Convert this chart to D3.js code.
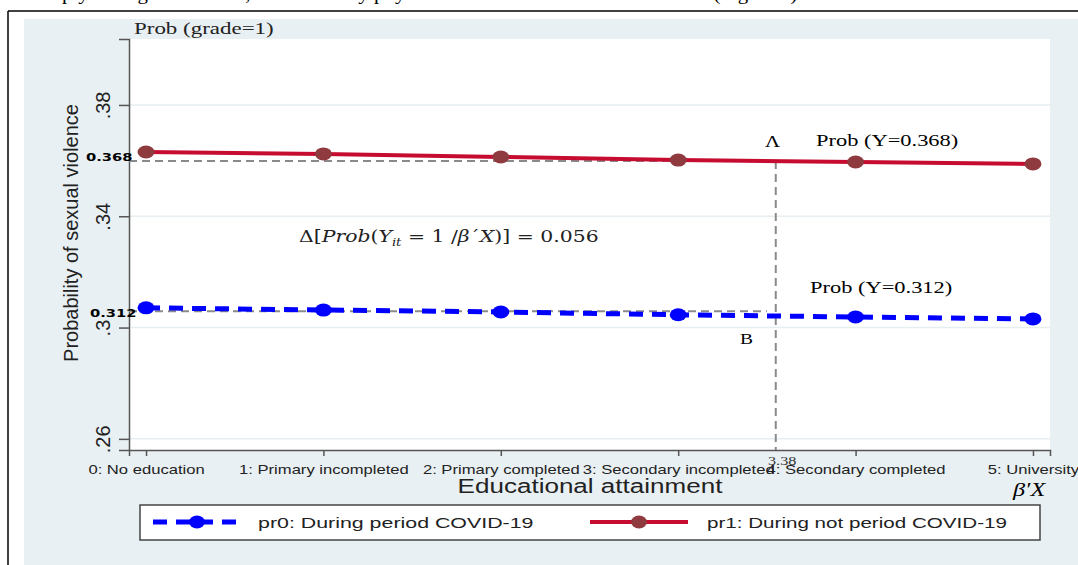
<!DOCTYPE html>
<html>
<head>
<meta charset="utf-8">
<script src="https://cdn.jsdelivr.net/npm/d3@7"></script>
<style>
  body { margin: 0; background: #fff; }
  svg { display: block; font-family: "Liberation Sans", Arial, sans-serif; }
</style>
</head>
<body>
<div id="chart"></div>
<script>
const width = 1078
const height = 565

// data
const levels = [0, 1, 2, 3, 4, 5]
const levelLabels = ["0: No education", "1: Primary incompleted", "2: Primary completed", "3: Secondary incompleted", "4: Secondary completed", "5: University"]
const pr0 = [0.3071, 0.3063, 0.3056, 0.3046, 0.3038, 0.3031]
const pr1 = [0.3631, 0.3624, 0.3613, 0.3602, 0.3595, 0.3588]
const yTicks = [0.26, 0.30, 0.34, 0.38]
const refA = 0.3599, refB = 0.3059, refX = 3.55, refXend = 3.5

const svg = d3.select("#chart").append("svg").attr("width", width).attr("height", height)

// the picture is stretched sideways, so most texts are too
function label(x, y, txt, size, sx, extra) {
    const t = svg.append("text")
        .attr("transform", `translate(${x},${y}) scale(${sx},1)`)
        .style("font-size", size + "px")
        .text(txt)
    if (extra) extra(t)
    return t
}
const serif = "Liberation Serif, Times New Roman, serif"

// page text cut off at the top
label(62, 0, "ply the figure 1 below, which clearly physical and sexual violence in the time (Figure 1)", 19, 1.1,
    t => t.style("font-family", serif))

// frame + background
svg.append("line").attr("x1", 8).attr("x2", width).attr("y1", 11).attr("y2", 11).attr("stroke", "#000").attr("stroke-width", 1.5)
svg.append("line").attr("x1", 8).attr("x2", 8).attr("y1", 11).attr("y2", height).attr("stroke", "#000").attr("stroke-width", 1.5)
svg.append("rect").attr("x", 24).attr("y", 19).attr("width", width - 24).attr("height", height - 19).attr("fill", "#e9f0f3")

// escalas
const x = d3.scaleLinear().domain([-0.096, 5.096]).range([129, 1050])
const y = d3.scaleLinear().domain([0.256, 0.4037]).range([450, 39])

svg.append("rect").attr("x", 129).attr("y", 39).attr("width", 921).attr("height", 411).attr("fill", "#fff")

// grid
svg.append("g").selectAll("line").data(yTicks).join("line")
    .attr("x1", 129).attr("x2", 1050)
    .attr("y1", d => y(d)).attr("y2", d => y(d))
    .attr("stroke", "#e6eef1").attr("stroke-width", 1.5)

// axes
const yAxis = d3.axisLeft(y).tickValues(yTicks).tickSizeOuter(0).tickSize(10)
    .tickFormat(d => d3.format(".2f")(d).replace(/^0/, "").replace(/0$/, ""))
const xAxis = d3.axisBottom(x).tickValues(levels).tickSizeOuter(0).tickSize(6).tickPadding(8)
    .tickFormat((d, i) => levelLabels[i])

const yAxisGroup = svg.append("g").attr("transform", "translate(129,0)").call(yAxis)
yAxisGroup.selectAll(".tick text")
    .attr("x", 0).attr("y", -19).attr("dy", 0)
    .attr("transform", "rotate(-90)")
    .attr("text-anchor", "middle")
    .style("font-size", "20px").style("fill", "#222")

const xAxisGroup = svg.append("g").attr("transform", "translate(0,450)").call(xAxis)
xAxisGroup.selectAll(".tick text").attr("transform", "scale(1.23,1)")
    .style("font-size", "13.5px").style("fill", "#222")

svg.selectAll(".domain, .tick line").attr("stroke", "#555").attr("stroke-width", 1.5)

// reference lines
const refG = svg.append("g").attr("stroke", "#8a8a8a").attr("stroke-width", 2).attr("stroke-dasharray", "8,5")
refG.append("line").attr("x1", x(-0.096)).attr("x2", x(refXend)).attr("y1", y(refA)).attr("y2", y(refA))
refG.append("line").attr("x1", x(-0.096)).attr("x2", x(refXend)).attr("y1", y(refB)).attr("y2", y(refB))
refG.append("line").attr("x1", x(refX)).attr("x2", x(refX)).attr("y1", y(refA)).attr("y2", 450)

// series
const line = d3.line().x((d, i) => x(levels[i])).y(d => y(d))
svg.append("path").datum(pr1).attr("d", line).attr("fill", "none").attr("stroke", "#c60c30").attr("stroke-width", 4)
svg.append("g").selectAll("ellipse").data(pr1).join("ellipse")
    .attr("cx", (d, i) => x(levels[i])).attr("cy", d => y(d)).attr("rx", 8.5).attr("ry", 6.5).attr("fill", "#8e3a3f")

svg.append("path").datum(pr0).attr("d", line).attr("fill", "none").attr("stroke", "#0000ff").attr("stroke-width", 5).attr("stroke-dasharray", "14,9")
svg.append("g").selectAll("ellipse").data(pr0).join("ellipse")
    .attr("cx", (d, i) => x(levels[i])).attr("cy", d => y(d)).attr("rx", 8.5).attr("ry", 6.5).attr("fill", "#0000ff")

// annotations
label(134, 34, "Prob (grade=1)", 17, 1.35, t => t.style("font-family", serif).attr("fill", "#222"))
label(86, 161, "0.368", 11, 1.34, t => t.style("font-family", "DejaVu Sans").style("font-weight", "bold"))
label(90, 317, "0.312", 11, 1.34, t => t.style("font-family", "DejaVu Sans").style("font-weight", "bold"))
label(765, 147, "Λ", 16, 1.3, t => t.style("font-family", serif))
label(816, 146, "Prob (Y=0.368)", 16.5, 1.36, t => t.style("font-family", serif))
label(810, 293, "Prob (Y=0.312)", 16.5, 1.36, t => t.style("font-family", serif))
label(740, 344, "B", 15, 1.3, t => t.style("font-family", serif))
label(768, 465, "3.38", 12.5, 1.3, t => t.style("font-family", serif).attr("fill", "#333"))

const delta = label(299, 242, "", 17, 1.2, t => t.style("font-family", "DejaVu Serif").attr("fill", "#222"))
delta.append("tspan").text("Δ[")
delta.append("tspan").style("font-style", "italic").text("Prob")
delta.append("tspan").text("(")
delta.append("tspan").style("font-style", "italic").text("Y")
delta.append("tspan").style("font-style", "italic").style("font-size", "11px").attr("dy", 4).text("it")
delta.append("tspan").attr("dy", -4).text(" = 1 /")
delta.append("tspan").style("font-style", "italic").text("β")
delta.append("tspan").text("´")
delta.append("tspan").style("font-style", "italic").text("X")
delta.append("tspan").text(")] = 0.056")

// axis titles
svg.append("text").attr("transform", "translate(78,233) rotate(-90)").attr("text-anchor", "middle")
    .style("font-size", "20px").attr("fill", "#222").text("Probability of sexual violence")
label(590, 493, "Educational attainment", 21, 1.24, t => t.attr("text-anchor", "middle").attr("fill", "#222"))
label(1013, 496, "β′X", 18, 1.35, t => t.style("font-family", serif).style("font-style", "italic"))

// legend
const leg = svg.append("g")
leg.append("rect").attr("x", 140).attr("y", 505).attr("width", 900).attr("height", 35).attr("fill", "#fff").attr("stroke", "#444").attr("stroke-width", 1.5)
leg.append("line").attr("x1", 153).attr("x2", 242).attr("y1", 522).attr("y2", 522).attr("stroke", "#0000ff").attr("stroke-width", 5).attr("stroke-dasharray", "14,9")
leg.append("ellipse").attr("cx", 197).attr("cy", 522).attr("rx", 8).attr("ry", 6.5).attr("fill", "#0000ff")
label(258, 528, "pr0: During period COVID-19", 15.5, 1.38, t => t.attr("fill", "#222"))
leg.append("line").attr("x1", 590).attr("x2", 688).attr("y1", 522).attr("y2", 522).attr("stroke", "#c60c30").attr("stroke-width", 4)
leg.append("ellipse").attr("cx", 639).attr("cy", 522).attr("rx", 8).attr("ry", 6.5).attr("fill", "#8e3a3f")
label(707, 528, "pr1: During not period COVID-19", 15.5, 1.33, t => t.attr("fill", "#222"))
</script>
</body>
</html>
